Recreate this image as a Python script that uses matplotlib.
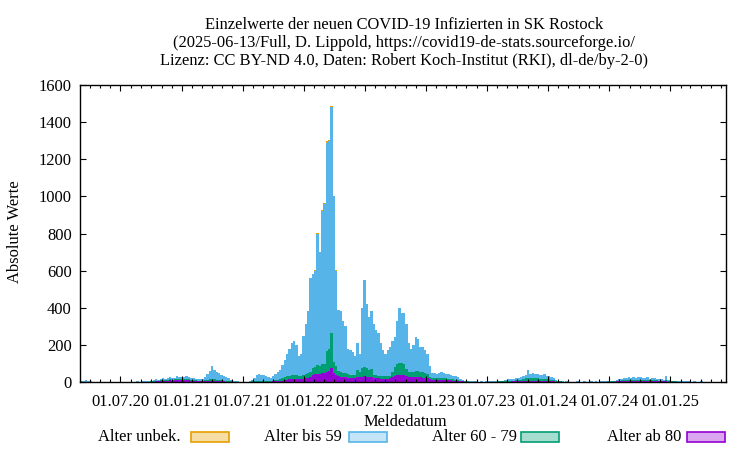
import matplotlib
matplotlib.use("Agg")
import matplotlib.pyplot as plt
import matplotlib.dates as mdates
from matplotlib.patches import Rectangle
import numpy as np
import datetime as dt

# weekly estimates (week starting dates from 2020-03-02), daily-level heights
start_date = "2020-03-02"
total = [
    6, 8, 10, 5, 3, 2, 2, 1, 1, 1,
    1, 1, 0, 1, 0, 1, 2, 1, 1, 1,
    2, 1, 1, 2, 3, 2, 3, 3, 4, 5,
    8, 10, 14, 12, 16, 20, 15, 22, 25, 20,
    24, 30, 28, 26, 25, 30, 28, 22, 20, 18,
    15, 14, 18, 25, 45, 60, 85, 65, 55, 50,
    40, 35, 28, 20, 12, 8, 5, 3, 2, 1,
    1, 2, 4, 10, 20, 40, 45, 40, 38, 30,
    25, 22, 30, 45, 55, 65, 90, 120, 150, 180,
    210, 220, 200, 140, 150, 250, 310, 380, 560, 580,
    600, 800, 700, 920, 960, 1290, 1300, 1480, 1000, 600,
    390, 380, 330, 300, 180, 170, 160, 140, 210, 150,
    400, 550, 420, 350, 380, 310, 280, 264, 210, 175,
    150, 170, 190, 220, 245, 330, 400, 370, 370, 310,
    210, 180, 200, 245, 230, 190, 190, 170, 150, 85,
    50, 48, 45, 50, 55, 48, 45, 42, 40, 35,
    30, 25, 18, 12, 8, 6, 5, 4, 3, 3,
    2, 3, 2, 3, 4, 3, 5, 4, 6, 8,
    8, 10, 12, 14, 15, 18, 20, 22, 28, 35,
    40, 65, 45, 48, 42, 45, 40, 38, 42, 35,
    30, 28, 20, 12, 8, 5, 4, 3, 3, 2,
    2, 2, 3, 2, 2, 3, 2, 2, 3, 2,
    3, 2, 3, 4, 3, 5, 4, 6, 8, 10,
    15, 18, 20, 22, 25, 20, 25, 22, 28, 25,
    22, 20, 25, 18, 20, 22, 18, 15, 15, 12,
    30, 10, 8, 6, 5, 5, 4, 4, 3, 3,
    3, 2, 3, 2, 2, 3, 2, 2, 2, 1,
    2, 1, 2, 1, 1, 1,
]
alter_60_79 = [
    1, 1, 1, 1, 0, 0, 0, 0, 0, 0,
    0, 0, 0, 0, 0, 0, 0, 0, 0, 0,
    0, 0, 0, 0, 1, 0, 1, 1, 1, 1,
    2, 2, 3, 3, 4, 5, 4, 5, 6, 5,
    6, 7, 6, 6, 6, 7, 6, 5, 5, 4,
    4, 4, 5, 6, 8, 10, 12, 10, 9, 8,
    6, 5, 4, 3, 2, 1, 1, 1, 0, 0,
    0, 0, 1, 2, 3, 5, 6, 5, 5, 4,
    4, 4, 5, 7, 8, 10, 12, 15, 18, 20,
    22, 24, 22, 18, 20, 22, 24, 25, 30, 35,
    40, 45, 42, 48, 50, 110, 120, 190, 60, 45,
    30, 28, 25, 25, 22, 20, 20, 18, 40, 30,
    45, 50, 45, 40, 45, 18, 16, 15, 14, 13,
    13, 14, 15, 30, 50, 60, 65, 62, 60, 40,
    30, 28, 30, 32, 30, 28, 28, 25, 22, 15,
    12, 12, 10, 12, 12, 10, 10, 9, 9, 8,
    6, 5, 4, 3, 2, 2, 1, 1, 1, 1,
    1, 1, 1, 1, 1, 1, 1, 1, 2, 2,
    2, 3, 3, 4, 4, 5, 6, 6, 8, 10,
    12, 15, 12, 14, 12, 13, 12, 11, 12, 10,
    9, 8, 6, 4, 3, 2, 1, 1, 1, 1,
    1, 1, 1, 1, 1, 1, 1, 1, 1, 1,
    1, 1, 1, 1, 1, 2, 1, 2, 2, 3,
    4, 5, 6, 6, 7, 6, 7, 6, 8, 7,
    6, 6, 7, 5, 6, 6, 5, 4, 4, 3,
    6, 3, 2, 2, 2, 1, 1, 1, 1, 1,
    1, 1, 1, 1, 1, 1, 1, 1, 1, 0,
    1, 0, 1, 0, 0, 0,
]
alter_ab_80 = [
    2, 1, 1, 1, 0, 0, 0, 0, 0, 0,
    0, 0, 0, 0, 0, 0, 0, 0, 0, 0,
    0, 0, 0, 0, 0, 0, 0, 0, 0, 1,
    1, 2, 3, 3, 5, 6, 6, 8, 9, 8,
    9, 10, 10, 9, 9, 10, 9, 7, 6, 5,
    4, 3, 3, 4, 5, 6, 6, 5, 4, 4,
    3, 3, 2, 2, 1, 1, 0, 0, 0, 0,
    0, 0, 0, 1, 1, 2, 2, 2, 2, 2,
    2, 2, 3, 4, 5, 6, 8, 10, 12, 14,
    15, 16, 15, 14, 15, 18, 20, 22, 25, 40,
    42, 45, 44, 48, 48, 55, 60, 75, 50, 40,
    30, 28, 26, 25, 22, 20, 20, 20, 25, 25,
    28, 30, 28, 26, 26, 22, 20, 20, 18, 18,
    18, 18, 20, 25, 32, 36, 38, 38, 36, 30,
    26, 25, 26, 28, 27, 25, 24, 22, 20, 14,
    12, 12, 11, 12, 12, 10, 10, 9, 9, 8,
    6, 5, 4, 3, 2, 2, 1, 1, 1, 1,
    1, 1, 1, 1, 1, 1, 1, 1, 1, 1,
    1, 2, 2, 2, 3, 3, 3, 4, 5, 6,
    7, 8, 7, 8, 7, 7, 6, 6, 6, 5,
    5, 4, 3, 2, 2, 1, 1, 1, 1, 1,
    1, 1, 1, 1, 1, 1, 1, 1, 1, 1,
    1, 1, 1, 1, 1, 1, 1, 2, 2, 3,
    3, 4, 4, 5, 5, 4, 5, 4, 5, 5,
    4, 4, 5, 4, 4, 4, 4, 3, 3, 3,
    4, 2, 2, 2, 1, 1, 1, 1, 1, 1,
    1, 1, 1, 1, 1, 1, 1, 1, 1, 0,
    1, 0, 1, 0, 0, 0,
]
alter_unbek = [
    0] * 100 + [2, 3, 2, 4, 5, 6, 6, 8, 4, 2] + [0] * 166

legend_labels = ["Alter unbek.", "Alter bis 59", "Alter 60 - 79", "Alter ab 80"]
title_lines = [
    "Einzelwerte der neuen COVID-19 Infizierten in SK Rostock",
    "(2025-06-13/Full, D. Lippold, https://covid19-de-stats.sourceforge.io/",
    "Lizenz: CC BY-ND 4.0, Daten: Robert Koch-Institut (RKI), dl-de/by-2-0)",
]

plt.rcParams['font.family'] = ['Liberation Serif', 'DejaVu Serif']
FS = 11.9

tot = np.array(total, float)
g = np.array(alter_60_79, float)
p = np.array(alter_ab_80, float)
u = np.array(alter_unbek, float)
b = np.clip(tot - g - p, 0, None)

dates = np.array([np.datetime64(start_date) + np.timedelta64(7 * i, 'D') for i in range(len(tot))])
x = mdates.date2num(dates.astype('datetime64[D]').astype(dt.date))

c_orange = "#e69f00"
c_blue = "#56b4e9"
c_green = "#009e73"
c_purple = "#9400d3"

fig = plt.figure(figsize=(7.5, 4.5), dpi=100)
ax = fig.add_axes([80 / 750, 1 - 382 / 450, 646 / 750, 297 / 450])

w = 7.0
ax.bar(x, p, width=w, align='edge', color=c_purple, linewidth=0)
ax.bar(x, g, width=w, bottom=p, align='edge', color=c_green, linewidth=0)
ax.bar(x, b, width=w, bottom=p + g, align='edge', color=c_blue, linewidth=0)
ax.bar(x, u, width=w, bottom=p + g + b, align='edge', color=c_orange, linewidth=0)

ax.set_xlim(mdates.date2num(dt.date(2020, 3, 2)), mdates.date2num(dt.date(2025, 6, 16)))
ax.set_ylim(0, 1600)
ax.xaxis.set_major_locator(mdates.MonthLocator(bymonth=[1, 7]))
ax.xaxis.set_minor_locator(mdates.MonthLocator())
ax.xaxis.set_major_formatter(mdates.DateFormatter('%d.%m.%y'))
ax.set_yticks(np.arange(0, 1601, 200))
ax.tick_params(axis='both', which='major', direction='in', length=4.5, width=0.8,
               top=True, right=True, labelsize=FS)
ax.tick_params(axis='x', which='major', pad=9)
ax.tick_params(axis='y', which='major', pad=6)
ax.tick_params(axis='x', which='minor', direction='in', length=2.3, width=0.8, top=True)
for s in ax.spines.values():
    s.set_linewidth(1.0)

for i, t in enumerate(title_lines):
    fig.text(404 / 750, 1 - (25 + 18 * i) / 450, t, ha='center', va='center', fontsize=FS)

fig.text(405 / 750, 1 - 422 / 450, "Meldedatum", ha='center', va='center', fontsize=FS)
fig.text(15 / 750, 1 - 232 / 450, "Absolute Werte", ha='center', va='center',
         rotation=90, fontsize=FS)

leg_colors = [c_orange, c_blue, c_green, c_purple]
text_right = [181, 342, 517, 681]
box_left = [191, 349, 521, 687]
box_w = 38
ly = 437
for lab, col, tr, bl in zip(legend_labels, leg_colors, text_right, box_left):
    fig.text(tr / 750, 1 - ly / 450, lab, ha='right', va='center', fontsize=FS)
    fc = matplotlib.colors.to_rgba(col, 0.35)
    rect = Rectangle((bl / 750, 1 - (ly + 5) / 450), box_w / 750, 10 / 450,
                     transform=fig.transFigure, facecolor=fc, edgecolor=col, linewidth=1.2)
    fig.patches.append(rect)

fig.savefig("out.png", dpi=100)
